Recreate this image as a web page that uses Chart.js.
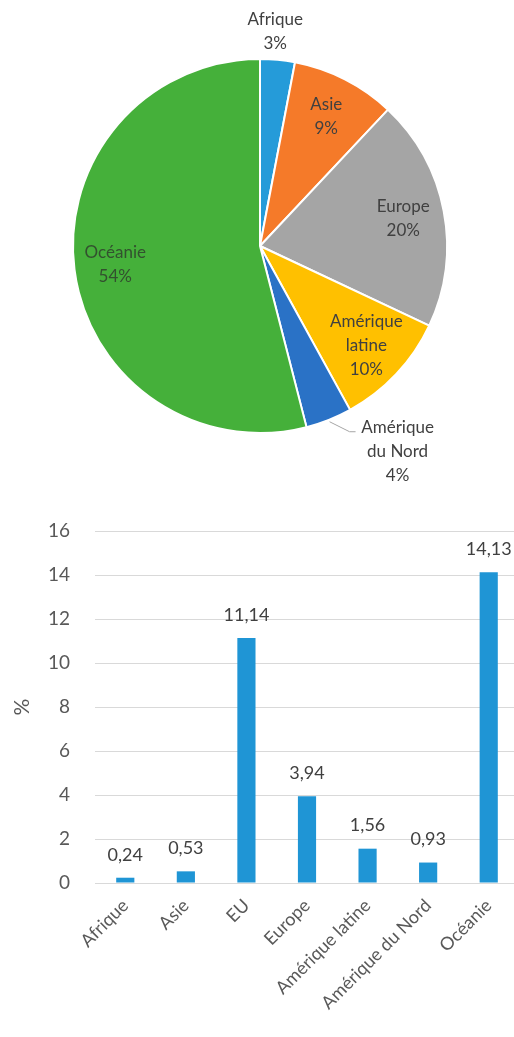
<!DOCTYPE html>
<html>
<head>
<meta charset="utf-8">
<script src="https://cdn.jsdelivr.net/npm/chart.js@4.4.1/dist/chart.umd.min.js"></script>
<style>
  html, body { margin: 0; padding: 0; background: #fff; overflow: hidden; }
  #pieBox { position: absolute; left: 0; top: 0; width: 514px; height: 490px; }
  #barBox { position: absolute; left: 0; top: 490px; width: 519px; height: 547px; }
</style>
</head>
<body>
<div id="pieBox"><canvas id="pieChart"></canvas></div>
<div id="barBox"><canvas id="barChart"></canvas></div>
<script>
// donnees du camembert (%)
var pieRegions = ['Afrique', 'Asie', 'Europe', 'Amérique latine', 'Amérique du Nord', 'Océanie'];
var pieShares = [3, 9, 20, 10, 4, 54];
var pieColors = ['#259bd9', '#f57a29', '#a5a5a5', '#ffc000', '#2a72c6', '#45b03a'];

// donnees du graphique en barres (%)
var barRegions = ['Afrique', 'Asie', 'EU', 'Europe', 'Amérique latine', 'Amérique du Nord', 'Océanie'];
var barValues = [0.24, 0.53, 11.14, 3.94, 1.56, 0.93, 14.13];
var yTicks = [0, 2, 4, 6, 8, 10, 12, 14, 16];

var fontFam = 'Lato, "Open Sans", sans-serif';
Chart.defaults.font.family = fontFam;
Chart.defaults.animation = false;

function splitName(name) {
  if (name.indexOf('Amérique ') === 0) return ['Amérique', name.slice(9)];
  return [name];
}

// etiquettes du camembert
var pieLabelPlugin = {
  id: 'pieLabels',
  afterDatasetsDraw: function (chart) {
    var ctx = chart.ctx;
    var meta = chart.getDatasetMeta(0);
    ctx.save();
    ctx.font = '17px ' + fontFam;
    ctx.textAlign = 'center';
    ctx.textBaseline = 'middle';
    meta.data.forEach(function (arc, i) {
      var p = arc.getProps(['x', 'y', 'startAngle', 'endAngle', 'outerRadius'], true);
      var mid = (p.startAngle + p.endAngle) / 2;
      var lines = splitName(pieRegions[i]).concat([pieShares[i] + '%']);
      var lh = 24;
      var cx, cy;
      ctx.fillStyle = i === 5 ? '#33502f' : '#404040';
      if (i === 0) {
        cx = p.x + Math.cos(mid) * p.outerRadius * 1.15 - 5;
        cy = p.y + Math.sin(mid) * p.outerRadius * 1.15;
      } else if (i === 4) {
        var sx = p.x + Math.cos(mid) * (p.outerRadius + 2);
        var sy = p.y + Math.sin(mid) * (p.outerRadius + 2);
        ctx.strokeStyle = '#a6a6a6';
        ctx.lineWidth = 1;
        ctx.beginPath();
        ctx.moveTo(sx, sy);
        ctx.lineTo(sx + 20, sy + 10);
        ctx.lineTo(sx + 26, sy + 10);
        ctx.stroke();
        cx = sx + 68;
        cy = sy + 10 + lh - 4;
      } else {
        cx = p.x + Math.cos(mid) * p.outerRadius * 0.78;
        cy = p.y + Math.sin(mid) * p.outerRadius * 0.78;
      }
      var y0 = cy - (lines.length - 1) * lh / 2;
      lines.forEach(function (t, k) {
        ctx.fillText(t, cx, y0 + k * lh);
      });
    });
    ctx.restore();
  }
};

// valeurs au-dessus des barres
var barLabelPlugin = {
  id: 'barLabels',
  afterDatasetsDraw: function (chart) {
    var ctx = chart.ctx;
    var meta = chart.getDatasetMeta(0);
    ctx.save();
    ctx.font = '18px ' + fontFam;
    ctx.fillStyle = '#404040';
    ctx.textAlign = 'center';
    ctx.textBaseline = 'middle';
    meta.data.forEach(function (bar, i) {
      var txt = barValues[i].toFixed(2).replace('.', ',');
      ctx.fillText(txt, bar.x, bar.y - 23);
    });
    ctx.restore();
  }
};

var pieChart = new Chart(document.getElementById('pieChart'), {
  type: 'pie',
  data: {
    labels: pieRegions,
    datasets: [{
      data: pieShares,
      backgroundColor: pieColors,
      borderColor: '#ffffff',
      borderWidth: 2
    }]
  },
  options: {
    responsive: true,
    maintainAspectRatio: false,
    layout: { padding: { left: 72, right: 66, top: 58, bottom: 56 } },
    plugins: { legend: { display: false }, tooltip: { enabled: false } }
  },
  plugins: [pieLabelPlugin]
});

var barChart = new Chart(document.getElementById('barChart'), {
  type: 'bar',
  data: {
    labels: barRegions,
    datasets: [{
      data: barValues,
      backgroundColor: '#1f95d5',
      categoryPercentage: 1,
      barPercentage: 0.3
    }]
  },
  options: {
    responsive: true,
    maintainAspectRatio: false,
    layout: { padding: { top: 41, right: 0, left: 0, bottom: 0 } },
    plugins: { legend: { display: false }, tooltip: { enabled: false } },
    scales: {
      x: {
        grid: { display: false },
        border: { color: '#d9d9d9' },
        ticks: {
          color: '#595959',
          font: { size: 18 },
          minRotation: 45,
          maxRotation: 45,
          padding: 4
        },
        afterFit: function (s) { s.height = 154; }
      },
      y: {
        min: 0,
        max: 16,
        afterBuildTicks: function (s) {
          s.ticks = yTicks.map(function (v) { return { value: v }; });
        },
        grid: { color: '#d9d9d9', drawTicks: false },
        border: { display: false },
        ticks: { color: '#595959', font: { size: 19 }, padding: 25 },
        title: {
          display: true,
          text: '%',
          color: '#595959',
          font: { size: 21 },
          padding: { top: 10, bottom: 0 }
        },
        afterFit: function (s) { s.width = 95; }
      }
    }
  },
  plugins: [barLabelPlugin]
});
</script>
</body>
</html>
